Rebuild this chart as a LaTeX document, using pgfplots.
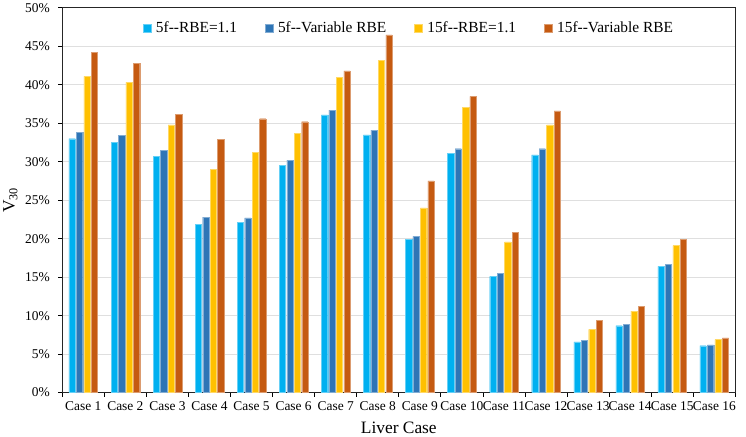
\documentclass[border=0pt]{standalone}
\usepackage{pgfplots}
\pgfplotsset{compat=1.18}
\usepackage{fontspec}
\setmainfont{Liberation Serif}

\definecolor{cLB}{HTML}{00B0F0}
\definecolor{cDB}{HTML}{2E75B6}
\definecolor{cYE}{HTML}{FFC000}
\definecolor{cOR}{HTML}{C55A11}

\begin{document}
\begin{tikzpicture}
\begin{axis}[
  scale only axis,
  width=677pt, height=387pt,
  ybar=1.2pt, bar width=6.3pt,
  xmin=0.5, xmax=16.5,
  ymin=0, ymax=50,
  xtick={1,...,16},
  xticklabels={Case 1,Case 2,Case 3,Case 4,Case 5,Case 6,Case 7,Case 8,Case 9,Case 10,Case 11,Case 12,Case 13,Case 14,Case 15,Case 16},
  minor xtick={0.5,1.5,...,16.5},
  major x tick style={draw=none},
  minor x tick style={black, line width=0.8pt},
  minor tick length=4pt,
  ytick={0,5,...,50},
  yticklabel={\pgfmathprintnumber{\tick}\%},
  /pgf/number format/assume math mode=true,
  ymajorgrids,
  grid style={gray!25, line width=0.8pt},
  axis line style={black!85, line width=1.1pt},
  y tick style={black, line width=0.8pt},
  major tick length=4pt,
  tick align=outside,
  xtick pos=bottom, ytick pos=left,
  ticklabel style={font=\fontsize{13.5}{15}\selectfont},
  yticklabel style={xshift=-5pt},
  xticklabel style={yshift=-2pt},
  xlabel={Liver Case},
  ylabel={V\textsubscript{30}},
  label style={font=\fontsize{17.5}{19}\selectfont},
  xlabel style={yshift=-4pt},
  ylabel style={yshift=1pt},
  legend style={at={(0.515,0.975)}, anchor=north, draw=none, fill=none,
    legend columns=4, font=\fontsize{15.5}{17}\selectfont,
    /tikz/every odd column/.append style={column sep=3pt},
    /tikz/every even column/.append style={column sep=26pt}},
  legend image code/.code={\fill[#1] (0pt,-4pt) rectangle (8pt,4pt);},
]
\addplot[fill=cLB, draw=cLB!60!white, line width=0.3pt] coordinates {
 (1,33.0) (2,32.5) (3,30.7) (4,21.9) (5,22.1) (6,29.5) (7,36.1) (8,33.5)
 (9,19.9) (10,31.1) (11,15.1) (12,30.9) (13,6.6) (14,8.7) (15,16.4) (16,6.1)};
\addplot[fill=cDB, draw=cDB!60!white, line width=0.3pt] coordinates {
 (1,33.8) (2,33.4) (3,31.5) (4,22.8) (5,22.7) (6,30.2) (7,36.7) (8,34.1)
 (9,20.3) (10,31.7) (11,15.5) (12,31.7) (13,6.8) (14,8.9) (15,16.7) (16,6.2)};
\addplot[fill=cYE, draw=cYE!60!white, line width=0.3pt] coordinates {
 (1,41.1) (2,40.3) (3,34.8) (4,29.0) (5,31.2) (6,33.7) (7,41.0) (8,43.2)
 (9,24.0) (10,37.1) (11,19.6) (12,34.8) (13,8.2) (14,10.6) (15,19.1) (16,6.9)};
\addplot[fill=cOR, draw=cOR!60!white, line width=0.3pt] coordinates {
 (1,44.2) (2,42.8) (3,36.2) (4,32.9) (5,35.6) (6,35.2) (7,41.8) (8,46.5)
 (9,27.5) (10,38.5) (11,20.8) (12,36.6) (13,9.4) (14,11.2) (15,19.9) (16,7.1)};
\legend{5f{-}{-}RBE=1.1, 5f{-}{-}Variable RBE, 15f{-}{-}RBE=1.1, 15f{-}{-}Variable RBE}
\end{axis}
\path (current bounding box.east) ++(7pt,0) coordinate (padR);
\path (padR);
\end{tikzpicture}
\end{document}
